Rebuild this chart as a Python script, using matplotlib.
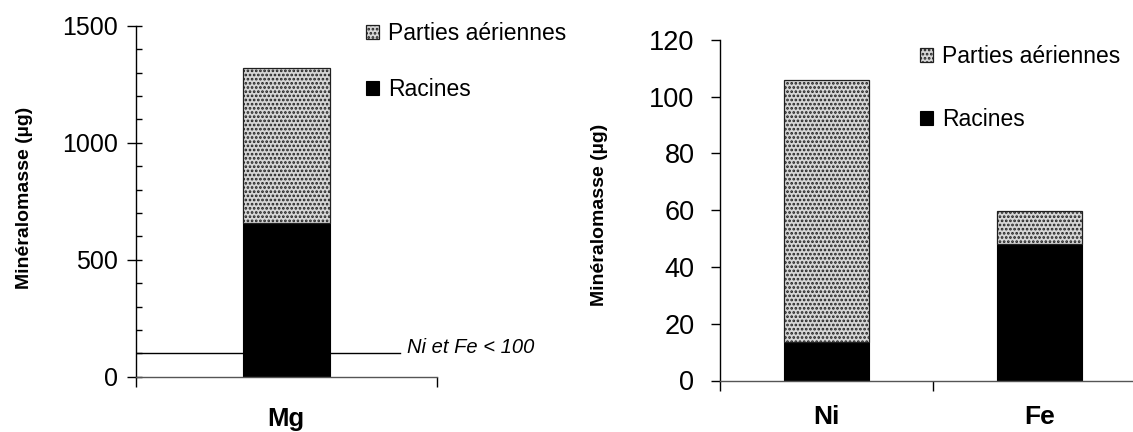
import matplotlib
matplotlib.use("Agg")
import matplotlib.pyplot as plt
from matplotlib.ticker import MultipleLocator, FixedLocator

plt.rcParams['font.family'] = ['Liberation Sans', 'DejaVu Sans']
plt.rcParams['hatch.linewidth'] = 1.3

# left panel: Mg
mg_cat = ['Mg']
mg_racines = [655]
mg_aeriennes = [663]
seuil = 100
seuil_txt = 'Ni et Fe < 100'

# right panel: Ni, Fe
nife_cat = ['Ni', 'Fe']
nife_racines = [13.4, 48.1]
nife_aeriennes = [92.4, 11.5]

lab_aer = 'Parties aériennes'
lab_rac = 'Racines'
ylab = 'Minéralomasse (µg)'

W, H = 1133, 432

def fx(px):
    return px / W
def fy(py):
    return 1 - py / H

def stack(ax, xs, rac, aer, width):
    b1 = ax.bar(xs, rac, width, color='black', edgecolor='black', linewidth=0.8, label=lab_rac)
    b2 = ax.bar(xs, aer, width, bottom=rac, color='#d6d6d6', edgecolor='#202020',
                hatch='....', linewidth=0.9, label=lab_aer)
    return b1, b2

def style(ax, tick_fs, pad):
    for s in ['top', 'right']:
        ax.spines[s].set_visible(False)
    for s in ['left', 'bottom']:
        ax.spines[s].set_linewidth(1.0)
    ax.tick_params(axis='y', which='major', direction='out', length=6.5, width=1,
                   labelsize=tick_fs, pad=pad)

def legend(ax, b1, b2, x, y, fs, spacing):
    ax.legend([b2, b1], [lab_aer, lab_rac], loc='upper left',
              bbox_to_anchor=(fx(x), fy(y)), bbox_transform=ax.figure.transFigure,
              frameon=False, fontsize=fs, borderpad=0, borderaxespad=0,
              handlelength=0.55, handleheight=0.55, handletextpad=0.4,
              labelspacing=spacing)

def main():
    fig = plt.figure(figsize=(W / 100, H / 100), dpi=100)

    # ---- left ----
    ax1 = fig.add_axes([fx(135.7), fy(376.7), fx(436.8 - 135.7), (376.7 - 25.7) / H])
    b1, b2 = stack(ax1, [0.5], mg_racines, mg_aeriennes, 0.288)
    ax1.set_xlim(0, 1)
    ax1.set_ylim(0, 1500)
    ax1.yaxis.set_major_locator(MultipleLocator(500))
    ax1.yaxis.set_minor_locator(MultipleLocator(100))
    ax1.yaxis.remove_overlapping_locs = False
    style(ax1, 18, 6.5)
    ax1.tick_params(axis='y', which='minor', direction='in', length=4.3, width=1)
    ax1.set_xticks([0.5])
    ax1.set_xticklabels(mg_cat, fontsize=18.5, fontweight='bold')
    ax1.tick_params(axis='x', which='major', length=0, pad=22)
    ax1.xaxis.set_minor_locator(FixedLocator([0, 1]))
    ax1.tick_params(axis='x', which='minor', direction='out', length=7, width=1)
    ax1.spines['bottom'].set_color('#555555')

    ax1.axhline(seuil, xmin=0, xmax=0.878, color='black', linewidth=1, zorder=1)
    ax1.text(0.9, seuil, seuil_txt, fontsize=14.5, style='italic', va='baseline',
             ha='left', clip_on=False)

    ax1.set_ylabel(ylab, fontsize=14, fontweight='bold', va='center')
    ax1.yaxis.set_label_coords((24 - 135.7) / 301.1, (376.7 - 198.3) / 351)
    legend(ax1, b1, b2, 366, 22, 16.5, 1.45)

    # ---- right ----
    ax2 = fig.add_axes([fx(720.1), fy(380.5), fx(426.2), (380.5 - 39.7) / H])
    xs = [0.5, 1.5]
    c1, c2 = stack(ax2, xs, nife_racines, nife_aeriennes, 0.4)
    ax2.set_xlim(0, 2)
    ax2.set_ylim(0, 120)
    ax2.yaxis.set_major_locator(MultipleLocator(20))
    style(ax2, 19.5, 12)
    ax2.set_xticks(xs)
    ax2.set_xticklabels(nife_cat, fontsize=19, fontweight='bold')
    ax2.tick_params(axis='x', which='major', length=0, pad=18)
    ax2.xaxis.set_minor_locator(FixedLocator([0, 1, 2]))
    ax2.tick_params(axis='x', which='minor', direction='out', length=7, width=1)
    ax2.spines['bottom'].set_color('#555555')

    ax2.set_ylabel(ylab, fontsize=14, fontweight='bold', va='center')
    ax2.yaxis.set_label_coords((599 - 720.1) / 426.2, (380.5 - 215) / 340.8)
    legend(ax2, c1, c2, 920, 45, 16.5, 1.75)

    fig.savefig('out.png', dpi=100)

main()
